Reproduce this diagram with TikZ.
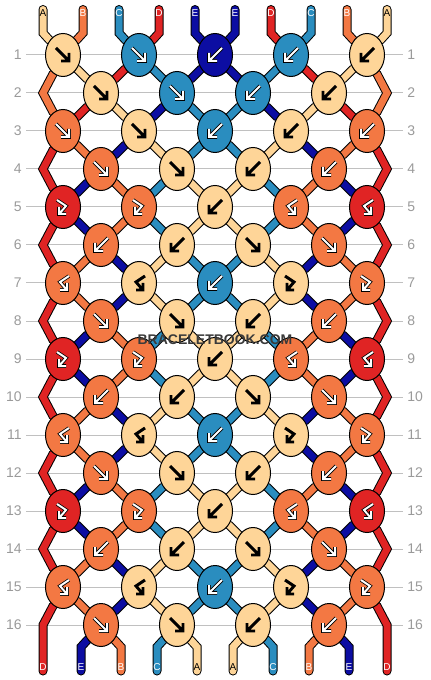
\documentclass[tikz,border=0pt]{standalone}
\usepackage{fontspec}
\setmainfont{Liberation Sans}
\usetikzlibrary{shapes}

\definecolor{colA}{HTML}{FED598}
\definecolor{colB}{HTML}{F37843}
\definecolor{colC}{HTML}{2A8DBF}
\definecolor{colD}{HTML}{E02424}
\definecolor{colE}{HTML}{0C0DA2}
\definecolor{rulegray}{HTML}{C0C0C0}
\definecolor{numgray}{HTML}{9A9A9A}
\definecolor{wmgray}{HTML}{3A3A3A}

\pgfdeclarelayer{grid}
\pgfdeclarelayer{strands}
\pgfsetlayers{grid,strands,main}

\begin{document}
\begin{tikzpicture}[x=0.75pt,y=-0.75pt]
  \tikzset{knot/.style={ellipse, draw=black, line width=0.75pt, fill=#1,
      minimum width=26.25pt, minimum height=32.25pt, inner sep=0pt},
    thread/.style={draw=black, line width=0.75pt, double=#1,
      double distance=5.25pt, line cap=round},
    rownum/.style={text=numgray, font=\fontsize{10.5}{12}\selectfont, inner sep=3pt},
    endlab/.style={font=\fontsize{7.5}{9}\selectfont, inner sep=0pt, text=white},
    endlabA/.style={endlab, text=black},
    endlabB/.style={endlab}, endlabC/.style={endlab},
    endlabD/.style={endlab}, endlabE/.style={endlab},
    arwA/.style={draw=black, line width=2.2pt, line cap=butt, line join=miter},
    arwW/.style={draw=white, line width=1.5pt, line cap=butt, line join=miter,
      preaction={draw=black, line width=2.7pt}},
    arwB/.style={arwW}, arwC/.style={arwW}, arwD/.style={arwW}, arwE/.style={arwW},
    shpfwd/.style={insert path={(-7,-7) -- (5,5) (6,-2) -- (6,6) -- (-2,6)}},
    shpbwd/.style={insert path={(7,-7) -- (-5,5) (-6,-2) -- (-6,6) -- (2,6)}},
    shpfb/.style={insert path={(-6,-7) -- (3,-1) -- (-3,6) (-4,0) -- (-4,7) -- (3,7)}},
    shpbf/.style={insert path={(6,-7) -- (-3,-1) -- (3,6) (4,0) -- (4,7) -- (-3,7)}}
  }
  \useasboundingbox (0,0) rectangle (430,680);

  % knots, row by row
  \foreach \r/\row in {1/{A/fwd,C/fwd,E/bwd,C/bwd,A/bwd},
      2/{A/fwd,C/fwd,C/bwd,A/bwd},
      3/{B/fwd,A/fwd,C/bwd,A/bwd,B/bwd},
      4/{B/fwd,A/fwd,A/bwd,B/bwd},
      5/{D/fb,B/fb,A/bwd,B/bf,D/bf},
      6/{B/bwd,A/bwd,A/fwd,B/fwd},
      7/{B/bf,A/bf,C/bwd,A/fb,B/fb},
      8/{B/fwd,A/fwd,A/bwd,B/bwd},
      9/{D/fb,B/fb,A/bwd,B/bf,D/bf},
      10/{B/bwd,A/bwd,A/fwd,B/fwd},
      11/{B/bf,A/bf,C/bwd,A/fb,B/fb},
      12/{B/fwd,A/fwd,A/bwd,B/bwd},
      13/{D/fb,B/fb,A/bwd,B/bf,D/bf},
      14/{B/bwd,A/bwd,A/fwd,B/fwd},
      15/{B/bf,A/bf,C/bwd,A/fb,B/fb},
      16/{B/fwd,A/fwd,A/bwd,B/bwd}} {
    \foreach \kcol/\ktype [count=\i] in \row {
      \pgfmathtruncatemacro{\cpos}{isodd(\r) ? 2*\i-1 : 2*\i}
      \node[knot=col\kcol] (k-\r-\cpos) at (25+38*\cpos, 17+38*\r) {};
      \draw[shift={(k-\r-\cpos)}, arw\kcol] (0,0) [shp\ktype];
    }
  }
  \foreach \r in {2,4,...,16} {
    \coordinate (k-\r-0) at (43, 17+38*\r);
    \coordinate (k-\r-10) at (387, 17+38*\r);
  }

  % row numbers and rules
  \begin{pgfonlayer}{grid}
    \foreach \r in {1,...,16} {
      \node[rownum, anchor=east] (lnum-\r) at (26, 17+38*\r) {\r};
      \node[rownum, anchor=west] (rnum-\r) at (403, 17+38*\r) {\r};
      \draw[rulegray, line width=0.75pt] (lnum-\r) -- (rnum-\r);
    }
  \end{pgfonlayer}

  \begin{pgfonlayer}{strands}
    % strands entering at the top
    \foreach \strand [count=\p] in {A,B,C,D,E,E,D,C,B,A} {
      \pgfmathtruncatemacro{\co}{2*int((\p-1)/2)+1}
      \pgfmathsetmacro{\sx}{25+38*\co+(isodd(\p) ? -20 : 20)}
      \coordinate (top-\p) at (\sx,9.5);
      \coordinate (tbend-\p) at (\sx,33);
      \draw[thread=col\strand] (top-\p) -- (tbend-\p) -- (k-1-\co);
      \node[endlab\strand] (tlab-\p) at (\sx,13) {\strand};
    }
    % strands between the rows
    \foreach \r/\seq in {1/{B,A,D,C,E,E,C,D,A,B}, 2/{B,D,A,E,C,C,E,A,D,B},
        3/{D,B,E,A,C,C,A,E,B,D}, 4/{D,E,B,C,A,A,C,B,E,D},
        5/{D,E,B,C,A,A,C,B,E,D}, 6/{D,B,E,A,C,C,A,E,B,D},
        7/{D,B,E,A,C,C,A,E,B,D}, 8/{D,E,B,C,A,A,C,B,E,D},
        9/{D,E,B,C,A,A,C,B,E,D}, 10/{D,B,E,A,C,C,A,E,B,D},
        11/{D,B,E,A,C,C,A,E,B,D}, 12/{D,E,B,C,A,A,C,B,E,D},
        13/{D,E,B,C,A,A,C,B,E,D}, 14/{D,B,E,A,C,C,A,E,B,D},
        15/{D,B,E,A,C,C,A,E,B,D}} {
      \pgfmathtruncatemacro{\rn}{\r+1}
      \foreach \strand [count=\p] in \seq {
        \pgfmathtruncatemacro{\co}{2*int((\p-1)/2)+1}
        \pgfmathtruncatemacro{\ce}{2*int(\p/2)}
        \pgfmathtruncatemacro{\ca}{isodd(\r) ? \co : \ce}
        \pgfmathtruncatemacro{\cb}{isodd(\r) ? \ce : \co}
        \ifnum\p>1 \ifnum\p<10
          \draw[thread=col\strand] (k-\r-\ca) -- (k-\rn-\cb);
        \fi\fi
      }
    }
    % edge strands
    \draw[thread=colB] (k-1-1) -- (k-2-0) -- (k-3-1);
    \draw[thread=colB] (k-1-9) -- (k-2-10) -- (k-3-9);
    \foreach \r in {3,5,...,13} {
      \pgfmathtruncatemacro{\rn}{\r+1}
      \pgfmathtruncatemacro{\rnn}{\r+2}
      \draw[thread=colD] (k-\r-1) -- (k-\rn-0) -- (k-\rnn-1);
      \draw[thread=colD] (k-\r-9) -- (k-\rn-10) -- (k-\rnn-9);
    }
    % strands leaving at the bottom
    \foreach \strand [count=\p] in {D,E,B,C,A,A,C,B,E,D} {
      \pgfmathtruncatemacro{\ce}{2*int(\p/2)}
      \pgfmathsetmacro{\sx}{\ce==0 ? 43 : (\ce==10 ? 387 : 25+38*\ce+(isodd(\p) ? 20 : -20))}
      \coordinate (bot-\p) at (\sx,671);
      \ifnum\p=1
        \draw[thread=col\strand] (k-15-1) -- (k-16-0) -- (bot-\p);
      \else\ifnum\p=10
        \draw[thread=col\strand] (k-15-9) -- (k-16-10) -- (bot-\p);
      \else
        \coordinate (bbend-\p) at (\sx,647);
        \draw[thread=col\strand] (k-16-\ce) -- (bbend-\p) -- (bot-\p);
      \fi\fi
      \node[endlab\strand] (blab-\p) at (\sx,667) {\strand};
    }
  \end{pgfonlayer}

  \node[font=\bfseries\fontsize{10.5}{12}\selectfont, text=wmgray] (wmark) at (215,340) {BRACELETBOOK.COM};
\end{tikzpicture}
\end{document}
